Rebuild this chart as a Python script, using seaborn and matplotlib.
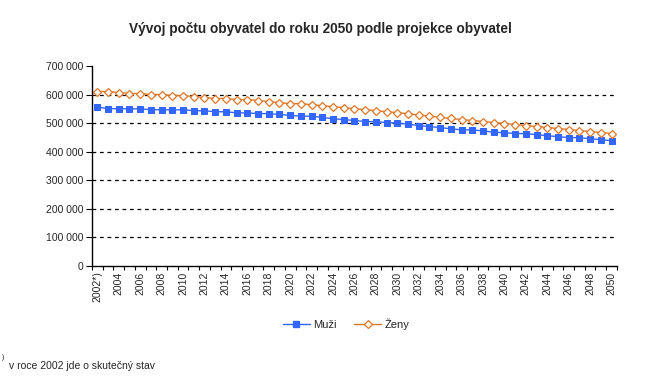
import numpy as np
import pandas as pd
import seaborn as sns
from matplotlib import pyplot as plt
from matplotlib.lines import Line2D

# data (thousands of people)
roky = list(range(2002, 2051))
muzi = [556.5, 550.5, 550.5, 550, 550, 547, 547, 546.5, 546.5,
        543.5, 543, 540, 539.5, 536, 535.5, 533.5, 533, 530.5, 527,
        524.5, 524, 520, 515, 512.5, 509, 505.5, 505, 502, 500,
        496.5, 491.5, 488, 484.5, 480, 476.5, 476, 473, 468, 466.5,
        463.5, 463, 459.5, 456, 452.5, 449.5, 449, 445.5, 442, 438.5]
zeny = [610.5, 610.5, 607, 603.5, 603.5, 600, 600, 596.5, 596.5,
        593, 589.5, 586, 586, 582.5, 582.5, 579, 575.5, 571.5, 568,
        568, 564.5, 561, 557.5, 554, 550.5, 547, 543.5, 540, 536.5,
        533, 528, 524.5, 520, 516.5, 512.5, 509, 505.5, 502, 498.5,
        495, 491.5, 488, 484.5, 481, 477.5, 474, 470.5, 467, 463.5]
y_ticks = [0, 100000, 200000, 300000, 400000, 500000, 600000, 700000]

x_labels = [('2002*)' if r == 2002 else str(r)) for r in roky]

df = pd.DataFrame({'i': range(len(roky)),
                   'muzi': np.array(muzi) * 1000,
                   'zeny': np.array(zeny) * 1000})

sns.set_style('white')
plt.rcParams['font.family'] = ['Liberation Sans', 'DejaVu Sans']

blue = '#3366ff'
orange = '#e0782a'

fig = plt.figure(figsize=(6.57, 3.76), dpi=100)
ax = fig.add_axes([0.140, 0.2926, 0.799, 0.532])

sns.lineplot(data=df, x='i', y='muzi', ax=ax, color=blue, lw=1,
             marker='s', markersize=4.6, markeredgecolor=blue, markerfacecolor=blue)
sns.lineplot(data=df, x='i', y='zeny', ax=ax, color=orange, lw=1,
             marker='D', markersize=4.3, markeredgecolor=orange,
             markerfacecolor='white', markeredgewidth=0.9)

# dashed gridlines
for t in y_ticks[1:-1]:
    ax.axhline(t, color='black', lw=0.9, ls=(0, (3, 3)), zorder=0)

ax.set_xlim(-0.5, len(roky) - 0.5)
ax.set_ylim(0, 700000)
ax.set_yticks(y_ticks)
ax.set_yticklabels([f'{v:,}'.replace(',', ' ') for v in y_ticks], fontsize=7.5)

ax.set_xticks(range(0, len(roky), 2))
ax.set_xticklabels(x_labels[::2], rotation=90, fontsize=7.5)
ax.set_xticks(np.arange(-0.5, len(roky), 1), minor=True)
ax.tick_params(axis='x', which='major', length=0, pad=4)
ax.tick_params(axis='x', which='minor', length=3, width=0.8, color='black', direction='out', bottom=True)
ax.tick_params(axis='y', length=4, width=0.8, color='black', direction='out', left=True, pad=2)

ax.set_xlabel('')
ax.set_ylabel('')
for s in ['top', 'right']:
    ax.spines[s].set_visible(False)
for s in ['left', 'bottom']:
    ax.spines[s].set_color('black')
    ax.spines[s].set_linewidth(1)

fig.text(0.488, 0.922, 'Vývoj počtu obyvatel do roku 2050 podle projekce obyvatel',
         ha='center', va='center', fontsize=9.8, fontweight='bold')

handles = [Line2D([], [], color=blue, lw=1, marker='s', markersize=4.6, markerfacecolor=blue),
           Line2D([], [], color=orange, lw=1, marker='D', markersize=4.3,
                  markerfacecolor='white', markeredgewidth=0.9)]
fig.legend(handles, ['Muži', 'Ženy'], loc='center', bbox_to_anchor=(0.527, 0.138),
           ncol=2, frameon=False, fontsize=8, handlelength=2.4, columnspacing=1.6,
           handletextpad=0.3)

fig.text(0.003, 0.04, ')', fontsize=5, va='bottom')
fig.text(0.014, 0.013, 'v roce 2002 jde o skutečný stav', fontsize=7.5, va='bottom')

fig.savefig('out.png', dpi=100)
